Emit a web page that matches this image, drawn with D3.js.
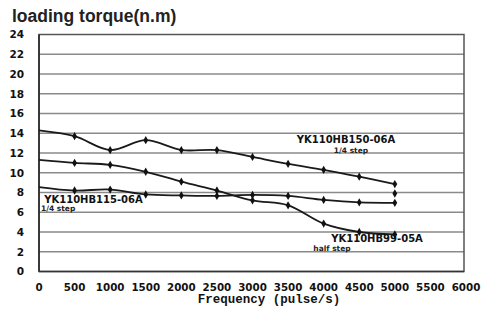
<!DOCTYPE html>
<html><head><meta charset="utf-8">
<script src="https://cdn.jsdelivr.net/npm/d3@7"></script>
<style>body{margin:0;background:#fff}svg{display:block}</style>
</head><body>
<script>
const freq = [0,500,1000,1500,2000,2500,3000,3500,4000,4500,5000];
const hb150 = [14.3,13.7,12.3,13.3,12.3,12.3,11.6,10.9,10.3,9.6,8.85];
const hb99  = [11.3,11.0,10.8,10.1,9.1,8.2,7.2,6.7,4.85,4.0,3.75];
const hb115 = [8.55,8.2,8.3,7.8,7.7,7.65,7.75,7.65,7.25,7.0,6.95];
const extraFreq = [5000];
const extraVal = [7.9];
const xTicks = [0,500,1000,1500,2000,2500,3000,3500,4000,4500,5000,5500,6000];
const yTicks = [0,2,4,6,8,10,12,14,16,18,20,22,24];
const title = "loading torque(n.m)";
const xTitle = "Frequency (pulse/s)";
const labels = [
  {name:"YK110HB150-06A", sub:"1/4 step", f:4314, v:13.0, sf:4384, sv:12.0},
  {name:"YK110HB115-06A", sub:"1/4 step", f:766, v:6.94, sf:0, sv:6.1},
  {name:"YK110HB99-05A", sub:"half step", f:4750, v:2.95, sf:4117, sv:2.05}
];

const W=481,H=316;
const svg=d3.select("body").append("svg").attr("width",W).attr("height",H);
const x=d3.scaleLinear().domain([0,6000]).range([39,466]);
const y=d3.scaleLinear().domain([0,24]).range([271.5,34.5]);
const boldFont="DejaVu Sans, Verdana, sans-serif";

// gridlines
svg.append("g").selectAll("line").data(yTicks.filter(t=>t>0&&t<24)).join("line")
  .attr("x1",x(0)).attr("x2",464).attr("y1",d=>y(d)).attr("y2",d=>y(d))
  .attr("stroke","#8a8a8a").attr("stroke-width",1.5);
// frame
svg.append("rect").attr("x",x(0)).attr("y",y(24)).attr("width",464-x(0)).attr("height",y(0)-y(24))
  .attr("fill","none").attr("stroke","#555").attr("stroke-width",1.5);
svg.append("line").attr("x1",x(0)).attr("x2",x(0)).attr("y1",y(24)).attr("y2",y(0)).attr("stroke","#222").attr("stroke-width",1.5);
svg.append("line").attr("x1",x(0)).attr("x2",464).attr("y1",y(0)).attr("y2",y(0)).attr("stroke","#333").attr("stroke-width",1.5);

// y tick labels
svg.append("g").selectAll("text").data(yTicks).join("text")
  .attr("x",24).attr("y",d=>y(d)).attr("dy","0.36em").attr("text-anchor","end")
  .attr("font-family",boldFont).attr("font-weight","bold").attr("font-size",10.5)
  .attr("fill","#111").text(d=>d);
// x tick labels
svg.append("g").selectAll("text").data(xTicks).join("text")
  .attr("x",d=>x(d)).attr("y",291).attr("text-anchor","middle")
  .attr("font-family",boldFont).attr("font-weight","bold").attr("font-size",10.3)
  .attr("fill","#111").text(d=>d);
svg.append("text").attr("x",269).attr("y",303).attr("text-anchor","middle")
  .attr("font-family","Liberation Mono, DejaVu Sans Mono, monospace").attr("font-weight","bold").attr("font-size",12.5)
  .attr("fill","#111").text(xTitle);
svg.append("text").attr("x",12).attr("y",22)
  .attr("font-family","Liberation Sans, Arial, sans-serif").attr("font-weight","bold").attr("font-size",17.5)
  .attr("fill","#222").text(title);

// series
const series=[hb150,hb99,hb115];
const line=d3.line().x((d,i)=>x(freq[i])).y(d=>y(d)).curve(d3.curveCatmullRom.alpha(0.5));
const sym=d3.symbol(d3.symbolDiamond).size(20);
series.forEach(s=>{
  svg.append("path").attr("d",line(s)).attr("fill","none").attr("stroke","#1a1a1a").attr("stroke-width",1.8);
  svg.append("g").selectAll("path").data(s.map((v,i)=>[freq[i],v]).filter(d=>d[0]>0)).join("path")
    .attr("d",sym).attr("transform",d=>`translate(${x(d[0])},${y(d[1])})`).attr("fill","#111");
});
svg.append("g").selectAll("path").data(extraVal.map((v,i)=>[extraFreq[i],v])).join("path")
  .attr("d",sym).attr("transform",d=>`translate(${x(d[0])},${y(d[1])})`).attr("fill","#111");

// labels
labels.forEach(l=>{
  svg.append("text").attr("x",x(l.f)).attr("y",y(l.v)).attr("text-anchor","middle")
    .attr("font-family",boldFont).attr("font-weight","bold").attr("font-size",10)
    .attr("fill","#111").text(l.name);
  svg.append("text").attr("x",x(l.sf)+(l.sf===0?2:0)).attr("y",y(l.sv)).attr("text-anchor",l.sf===0?"start":"middle")
    .attr("font-family",boldFont).attr("font-weight","bold").attr("font-size",7.5)
    .attr("fill","#222").text(l.sub);
});
</script>
</body></html>
